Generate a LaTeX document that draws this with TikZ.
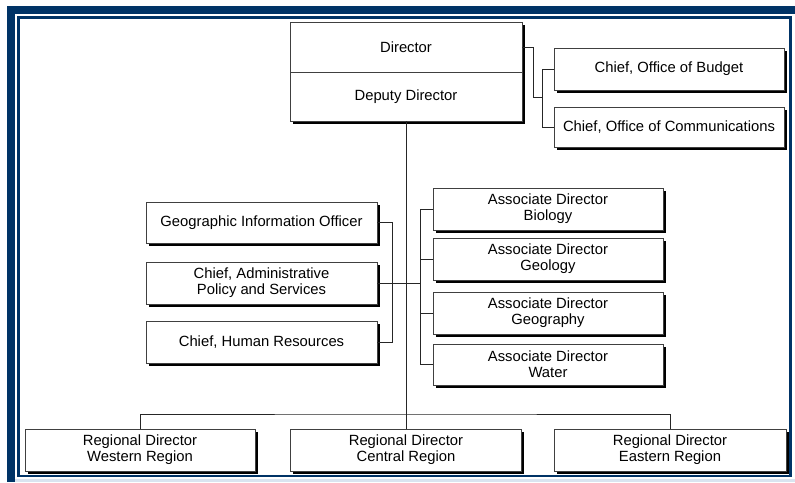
\documentclass[tikz,border=0pt]{standalone}
\usepackage{fontspec}
\setmainfont{Liberation Sans}
\usepackage{xcolor}
\usepackage{tikz}
\usetikzlibrary{shadows}
\definecolor{navy}{RGB}{0,51,102}
\definecolor{pale}{RGB}{218,228,240}
\begin{document}
\begin{tikzpicture}[x=1pt,y=-1pt]
			
			\tikzstyle{unit} = [draw=black!75,fill=white,line width=0.8pt,inner sep=0pt,align=center,
				minimum width=230pt,minimum height=42pt,font=\fontsize{14.8}{16}\selectfont,
				drop shadow={shadow xshift=2.6pt,shadow yshift=-2.6pt,opacity=1,fill=black}]
			\tikzstyle{link} = [black!85,line width=0.9pt]
			
			\useasboundingbox (0,0) rectangle (795,482);
			
			% frame
			\fill[navy] (7,6) rectangle (795,14);
			\fill[navy] (7,6) rectangle (15,482);
			\fill[pale] (15,478.5) rectangle (795,482);
			\draw[navy,line width=2.4pt] (18.5,17.5) rectangle (790.5,476);
			
			% top
			\node[unit,minimum width=232pt,minimum height=50pt] (dir) at (406,47) {Director};
			\node[unit,minimum width=232pt,minimum height=49pt] (dep) at (406,96.5) {Deputy Director};
			
			\node[unit] (bud) at (669,69) {Chief, Office of Budget};
			\node[unit,minimum height=40pt] (com) at (669,127) {Chief, Office of Communications};
			
			% staff
			\node[unit,minimum width=231pt,minimum height=41pt] (gio) at (261.5,222.5) {Geographic Information Officer};
			\node[unit,minimum width=231pt] (adm) at (261.5,283) {Chief, Administrative\\Policy and Services};
			\node[unit,minimum width=231pt] (hr) at (261.5,342) {Chief, Human Resources};
			
			\node[unit] (bio) at (548,209) {Associate Director\\Biology};
			\node[unit] (geo) at (548,259) {Associate Director\\Geology};
			\node[unit] (gph) at (548,313) {Associate Director\\Geography};
			\node[unit,minimum height=41pt] (wat) at (548,364.5) {Associate Director\\Water};
			
			% regions
			\node[unit] (wes) at (140,450) {Regional Director\\Western Region};
			\node[unit,minimum width=231pt] (cen) at (406,450) {Regional Director\\Central Region};
			\node[unit,minimum width=232pt] (eas) at (670,450) {Regional Director\\Eastern Region};
			
			\coordinate (bjoin) at (543,97);
			\coordinate (ajoin) at (421,283);
			\coordinate (rbar) at (406,414);
			
			\draw[link] (dir.east) -- ++(11,0) |- (bjoin);
			\draw[link] (bud.west) -- ++(-11,0) |- (com.west);
			\draw[link] (gio.east) -- ++(15,0) |- (hr.east);
			\draw[link] (adm.east) -- (ajoin);
			\draw[link] (bio.west) -- ++(-12,0) |- (wat.west);
			\draw[link] (geo.west) -- ++(-12,0);
			\draw[link] (gph.west) -- ++(-12,0);
			\draw[link] (wes.north) |- (rbar) -| (eas.north);
			\draw[link] (dep.south) -- (cen.north);
		\end{tikzpicture}
\end{document}
